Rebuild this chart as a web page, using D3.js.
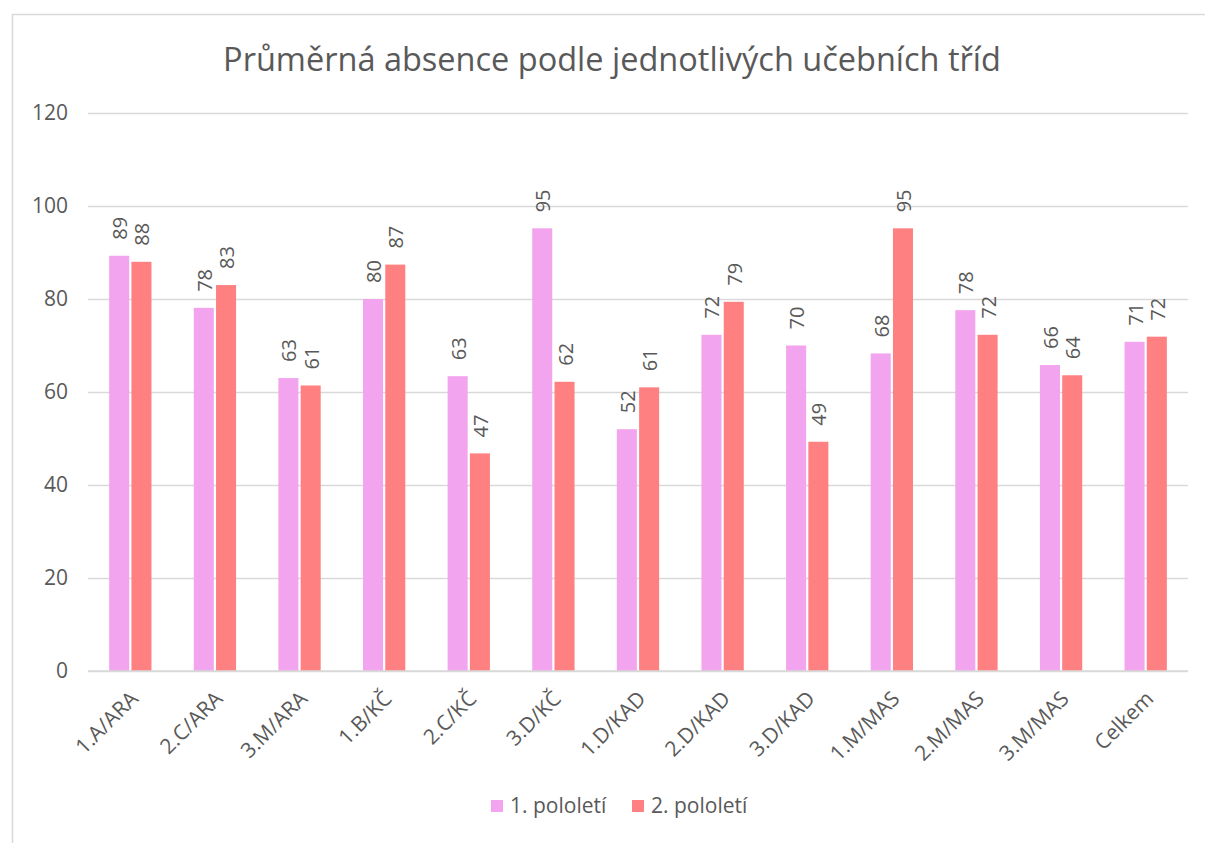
<!DOCTYPE html>
<html>
<head>
  <title>Průměrná absence</title>
  <style type="text/css">
    body { margin: 0; background: #fff; }
    svg text { font-family: "Open Sans", Lato, sans-serif; fill: #595959; }
    .grid line { stroke: #d9d9d9; stroke-width: 1.5px; }
  </style>
</head>
<body>
  <div id="chart"></div>
  <script type="text/javascript" src="https://cdnjs.cloudflare.com/ajax/libs/d3/7.8.5/d3.min.js"></script>
  <script type="text/javascript">
  var title = 'Průměrná absence podle jednotlivých učebních tříd';
  var categories = ['1.A/ARA', '2.C/ARA', '3.M/ARA', '1.B/KČ', '2.C/KČ', '3.D/KČ', '1.D/KAD',
    '2.D/KAD', '3.D/KAD', '1.M/MAS', '2.M/MAS', '3.M/MAS', 'Celkem'];
  var seriesNames = ['1. pololetí', '2. pololetí'];
  var pololeti1 = [89.3, 78.1, 63.0, 80.0, 63.4, 95.2, 52.0, 72.3, 70.0, 68.3, 77.6, 65.8, 70.8];
  var pololeti2 = [88.0, 83.0, 61.4, 87.4, 46.8, 62.2, 61.0, 79.4, 49.3, 95.2, 72.3, 63.6, 71.9];
  var yTicks = [0, 20, 40, 60, 80, 100, 120];
  var colors = ['#f2a5ee', '#ff8080'];

  var cfg = { w: 1205, h: 843, left: 88, right: 1188, top: 113, bottom: 671 };

  var svg = d3.select('#chart').append('svg')
    .attr('width', cfg.w)
    .attr('height', cfg.h);

  // frame
  svg.append('rect')
    .attr('x', 12.5).attr('y', 14.5)
    .attr('width', 1200).attr('height', 840)
    .attr('fill', '#fff')
    .attr('stroke', '#d9d9d9')
    .attr('stroke-width', 1.5);

  svg.append('text')
    .attr('x', 612).attr('y', 71)
    .attr('text-anchor', 'middle')
    .style('font-size', '32.5px')
    .text(title);

  var x = d3.scaleBand().domain(categories).range([cfg.left, cfg.right]);
  var xs = d3.scaleBand().domain([0, 1]).range([0, x.bandwidth()]).paddingInner(0.1).paddingOuter(0.95);
  var y = d3.scaleLinear().domain([0, 120]).range([cfg.bottom, cfg.top]);

  svg.append('g')
    .attr('class', 'grid')
    .attr('transform', 'translate(' + cfg.left + ',0)')
    .call(d3.axisLeft(y).tickValues(yTicks).tickSize(-(cfg.right - cfg.left)).tickFormat(''))
    .call(function(g) { g.select('.domain').remove() });

  svg.append('g')
    .attr('transform', 'translate(' + cfg.left + ',0)')
    .call(d3.axisLeft(y).tickValues(yTicks).tickSize(0).tickPadding(20))
    .call(function(g) {
      g.select('.domain').remove();
      g.selectAll('text').style('font-size', '21px').style('fill', '#595959');
    });

  var rows = categories.map(function(c, i) {
    return { cat: c, vals: [pololeti1[i], pololeti2[i]] };
  });

  var groups = svg.selectAll('g.cat')
    .data(rows)
    .enter()
    .append('g')
    .attr('class', 'cat')
    .attr('transform', function(d) { return 'translate(' + x(d.cat) + ',0)' });

  var cells = groups.selectAll('g.bar')
    .data(function(d) { return d.vals.map(function(v, k) { return { k: k, v: v } }) })
    .enter()
    .append('g');

  cells.append('rect')
    .attr('x', function(d) { return xs(d.k) })
    .attr('width', xs.bandwidth())
    .attr('y', function(d) { return y(d.v) })
    .attr('height', function(d) { return y(0) - y(d.v) })
    .attr('fill', function(d) { return colors[d.k] });

  cells.append('text')
    .attr('transform', function(d) {
      return 'translate(' + (xs(d.k) + xs.bandwidth() / 2 + 8) + ',' + (y(d.v) - 16) + ') rotate(-90)';
    })
    .style('font-size', '20px')
    .text(function(d) { return Math.round(d.v) });

  // baseline
  svg.append('line')
    .attr('x1', cfg.left).attr('x2', cfg.right)
    .attr('y1', y(0)).attr('y2', y(0))
    .attr('stroke', '#d9d9d9').attr('stroke-width', 1.5);

  svg.append('g')
    .attr('transform', 'translate(0,' + cfg.bottom + ')')
    .call(d3.axisBottom(x).tickSize(0).tickPadding(0))
    .call(function(g) {
      g.select('.domain').remove();
      g.selectAll('text')
        .style('font-size', '21px')
        .style('fill', '#595959')
        .attr('text-anchor', 'end')
        .attr('dy', '0')
        .attr('transform', 'translate(9,29) rotate(-45)');
    });

  // legend
  var legend = svg.append('g').attr('transform', 'translate(491,813)');
  var items = legend.selectAll('g')
    .data(seriesNames)
    .enter()
    .append('g')
    .attr('transform', function(d, i) { return 'translate(' + (i * 141) + ',0)' });
  items.append('rect')
    .attr('x', 0).attr('y', -13).attr('width', 12).attr('height', 12)
    .attr('fill', function(d, i) { return colors[i] });
  items.append('text')
    .attr('x', 19).attr('y', 0)
    .style('font-size', '21px')
    .text(function(d) { return d });
  </script>
</body>
</html>
